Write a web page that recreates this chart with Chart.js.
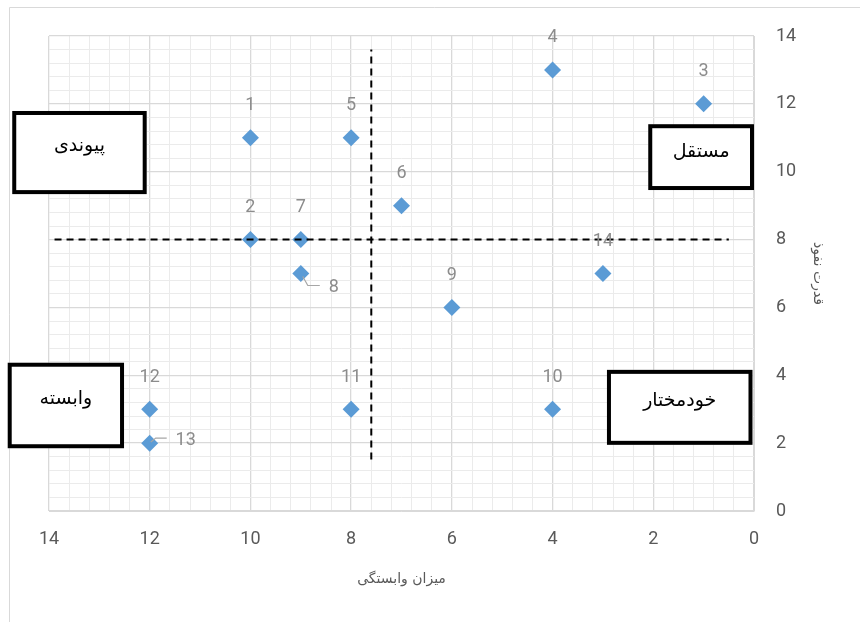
<!DOCTYPE html>
<html>
<head>
<meta charset="utf-8">
<script src="https://cdn.jsdelivr.net/npm/chart.js@4/dist/chart.umd.min.js"></script>
<style>
  html, body { margin: 0; padding: 0; background: #ffffff; }
  #wrap { width: 860px; height: 622px; }
</style>
</head>
<body>
<div id="wrap"><canvas id="c" width="860" height="622"></canvas></div>
<script>
// ---- data ----
const pointIds = ['1','2','3','4','5','6','7','8','9','10','11','12','13','14'];
const xValues  = [10, 10, 1, 4, 8, 7, 9, 9, 6, 4, 8, 12, 12, 3];
const yValues  = [11, 8, 12, 13, 11, 9, 8, 7, 6, 3, 3, 3, 2, 7];
const majorTicks = [0, 2, 4, 6, 8, 10, 12, 14];
const xTitle = 'میزان وابستگی';
const yTitle = 'قدرت نفوذ';
const quadrantNames = ['پیوندی', 'مستقل', 'وابسته', 'خودمختار'];
const dividerX = 7.6;
const dividerY = 8;

// ---- style / placement (not data) ----
const quadrantBoxes = [ // data-space corners [x1, x2, y1, y2]
  [14.73, 12.06, 11.79, 9.34],
  [2.10, 0.0, 11.40, 9.46],
  [14.82, 12.51, 4.37, 1.85],
  [2.92, 0.03, 4.16, 1.95]
];
const verticalSpan = [1.52, 13.6];
const horizontalSpan = [13.89, 0.5];
const labelOffsets = { // pixel offsets for point labels
  default: [0, -32],
  '8': [33, 14],
  '13': [36, -3]
};
const leaders = {
  '8': [[2, 3], [7, 12], [19, 12]],
  '13': [[1, -1], [6, -5], [17, -5]]
};

const points = xValues.map((x, i) => ({ x: x, y: yValues[i] }));
const isMajor = v => Math.abs(v / 2 - Math.round(v / 2)) < 1e-6;
const minorTicks = () => { const t = []; for (let i = 0; i <= 35; i++) t.push({ value: Math.round(i * 4) / 10 }); return t; };

const framePlugin = {
  id: 'frame',
  beforeDraw(chart) {
    const ctx = chart.ctx;
    ctx.save();
    ctx.fillStyle = '#ffffff';
    ctx.fillRect(0, 0, chart.width, chart.height);
    ctx.strokeStyle = '#d9d9d9';
    ctx.lineWidth = 1;
    ctx.beginPath();
    ctx.moveTo(9.5, chart.height);
    ctx.lineTo(9.5, 7.5);
    ctx.lineTo(chart.width, 7.5);
    ctx.stroke();
    ctx.restore();
  }
};

const overlayPlugin = {
  id: 'overlay',
  afterDatasetsDraw(chart) {
    const ctx = chart.ctx;
    const xs = chart.scales.x, ys = chart.scales.y;
    const meta = chart.getDatasetMeta(2);
    ctx.save();
    // point labels
    ctx.font = '18px Roboto, "Noto Sans", sans-serif';
    ctx.fillStyle = '#8c8c8c';
    ctx.textAlign = 'center';
    ctx.textBaseline = 'middle';
    meta.data.forEach((el, i) => {
      const id = pointIds[i];
      const off = labelOffsets[id] || labelOffsets.default;
      if (leaders[id]) {
        ctx.strokeStyle = '#a6a6a6';
        ctx.lineWidth = 1.2;
        ctx.beginPath();
        leaders[id].forEach((p, k) => {
          if (k === 0) ctx.moveTo(el.x + p[0], el.y + p[1]);
          else ctx.lineTo(el.x + p[0], el.y + p[1]);
        });
        ctx.stroke();
      }
      ctx.fillText(id, el.x + off[0], el.y + off[1]);
    });
    // quadrant boxes
    quadrantBoxes.forEach((b, i) => {
      const x1 = xs.getPixelForValue(b[0]), x2 = xs.getPixelForValue(b[1]);
      const y1 = ys.getPixelForValue(b[2]), y2 = ys.getPixelForValue(b[3]);
      const l = Math.min(x1, x2), r = Math.max(x1, x2), t = Math.min(y1, y2), bt = Math.max(y1, y2);
      ctx.fillStyle = '#ffffff';
      ctx.fillRect(l, t, r - l, bt - t);
      ctx.strokeStyle = '#000000';
      ctx.lineWidth = 4;
      ctx.strokeRect(l + 2, t + 2, r - l - 4, bt - t - 4);
      ctx.fillStyle = '#000000';
      ctx.font = '19px "DejaVu Sans", sans-serif';
      ctx.textAlign = 'center';
      ctx.textBaseline = 'middle';
      ctx.fillText(quadrantNames[i], (l + r) / 2, t + (bt - t) * 0.42);
    });
    ctx.restore();
  }
};

new Chart(document.getElementById('c'), {
  type: 'scatter',
  data: {
    datasets: [
      {
        label: 'v',
        data: [{ x: dividerX, y: verticalSpan[0] }, { x: dividerX, y: verticalSpan[1] }],
        showLine: true, borderColor: '#000000', borderWidth: 2, borderDash: [7, 5],
        pointRadius: 0, order: 0
      },
      {
        label: 'h',
        data: [{ x: horizontalSpan[0], y: dividerY }, { x: horizontalSpan[1], y: dividerY }],
        showLine: true, borderColor: '#000000', borderWidth: 2, borderDash: [7, 5],
        pointRadius: 0, order: 0
      },
      {
        label: 'points',
        data: points,
        pointStyle: 'rectRot', pointRadius: 8.5, pointHoverRadius: 8.5,
        backgroundColor: '#5b9bd5', borderColor: '#5b9bd5', borderWidth: 0,
        showLine: false, order: 1
      }
    ]
  },
  options: {
    responsive: false,
    devicePixelRatio: 1,
    animation: false,
    layout: { padding: { left: 49, top: 36, right: 0, bottom: 0 } },
    plugins: { legend: { display: false }, tooltip: { enabled: false } },
    scales: {
      x: {
        type: 'linear', position: 'bottom', reverse: true, min: 0, max: 14,
        afterBuildTicks: s => { s.ticks = minorTicks(); },
        afterFit: s => { s.height = 111; },
        grid: {
          color: c => isMajor(c.tick.value) ? '#d9d9d9' : '#ebebeb',
          lineWidth: c => isMajor(c.tick.value) ? 1.3 : 1,
          drawTicks: false
        },
        border: { display: true, color: '#d9d9d9' },
        ticks: {
          autoSkip: false, maxRotation: 0, padding: 18,
          color: '#595959', font: { family: 'Roboto', size: 18 },
          callback: v => (isMajor(v) && majorTicks.includes(Math.round(v))) ? String(Math.round(v)) : ''
        },
        title: {
          display: true, text: xTitle, color: '#595959',
          font: { family: 'DejaVu Sans', size: 14 }, padding: { top: 0, bottom: 34 }
        }
      },
      y: {
        type: 'linear', position: 'right', min: 0, max: 14,
        afterBuildTicks: s => { s.ticks = minorTicks(); },
        afterFit: s => { s.width = 106; },
        grid: {
          color: c => isMajor(c.tick.value) ? '#d9d9d9' : '#ebebeb',
          lineWidth: c => isMajor(c.tick.value) ? 1.3 : 1,
          drawTicks: false
        },
        border: { display: true, color: '#d9d9d9' },
        ticks: {
          autoSkip: false, padding: 22,
          color: '#595959', font: { family: 'Roboto', size: 18 },
          callback: v => (isMajor(v) && majorTicks.includes(Math.round(v))) ? String(Math.round(v)) : ''
        },
        title: {
          display: true, text: yTitle, color: '#595959',
          font: { family: 'DejaVu Sans', size: 14 }, padding: { top: 34, bottom: 0 }
        }
      }
    }
  },
  plugins: [framePlugin, overlayPlugin]
});
</script>
</body>
</html>
